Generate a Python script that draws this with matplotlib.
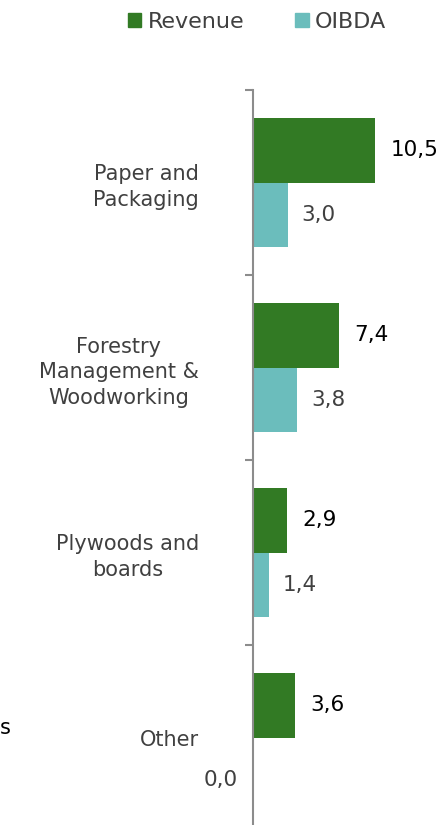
import numpy as np
import matplotlib.pyplot as plt
from matplotlib.patches import Patch

# segment results, bln
categories = ['Paper and\nPackaging', 'Forestry\nManagement &\nWoodworking',
              'Plywoods and\nboards', 'Other']
revenue = [10.5, 7.4, 2.9, 3.6]
oibda = [3.0, 3.8, 1.4, 0.0]

GREEN = '#327A24'
TEAL = '#6BBDBC'
GREY = '#404040'

plt.rcParams['font.family'] = ['DejaVu Sans']

fig = plt.figure(figsize=(4.43, 8.25), dpi=100)
ax = fig.add_axes([253 / 443, 1 - 830 / 825, 186 / 443, 740 / 825])

y = np.arange(len(categories))
h = 0.35
bars_rev = ax.barh(y - h / 2, revenue, height=h, color=GREEN)
bars_oib = ax.barh(y + h / 2, oibda, height=h, color=TEAL)

ax.set_xlim(0, 16)
ax.set_ylim(3.5, -0.5)

for b, v in zip(bars_rev, revenue):
    ax.annotate(f'{v:.1f}'.replace('.', ','), (b.get_width(), b.get_y() + b.get_height() / 2),
                xytext=(11, 0), textcoords='offset points', va='center', ha='left',
                fontsize=15.5, color='black')
for b, v in zip(bars_oib, oibda):
    if v == 0:
        # zero value: label sits left of the axis, a bit lower
        xt, ha = (-11, 'right')
        yt = -7
    else:
        xt, ha = (10, 'left')
        yt = 0
    ax.annotate(f'{v:.1f}'.replace('.', ','), (b.get_width(), b.get_y() + b.get_height() / 2),
                xytext=(xt, yt), textcoords='offset points', va='center', ha=ha,
                fontsize=15.5, color=GREY)

# category boundaries as ticks, names on minor ticks at the centres
ax.set_yticks(np.arange(-0.5, 3.5, 1.0))
ax.set_yticklabels([])
ax.set_yticks(y, minor=True)
ax.set_yticklabels(categories, minor=True, fontsize=15, color=GREY,
                   ha='right', multialignment='center', linespacing=1.35)
ax.tick_params(axis='y', which='major', length=6, width=1.5, color='#8C8C8C', direction='out')
ax.tick_params(axis='y', which='minor', length=0, pad=39)
ax.set_xticks([])

for s in ['top', 'right', 'bottom']:
    ax.spines[s].set_visible(False)
ax.spines['left'].set_color('#8C8C8C')
ax.spines['left'].set_linewidth(1.5)

handles = [Patch(color=GREEN, label='Revenue'), Patch(color=TEAL, label='OIBDA')]
fig.legend(handles=handles, loc='center', bbox_to_anchor=(257 / 443, 1 - 22 / 825),
           ncol=2, frameon=False, fontsize=16, handlelength=0.6, handleheight=0.6,
           handletextpad=0.3, columnspacing=2.3, labelcolor=GREY)

fig.text(0, 1 - 728 / 825, 's', fontsize=15, color='black', va='center', ha='left')

fig.savefig('out.png', dpi=100)
